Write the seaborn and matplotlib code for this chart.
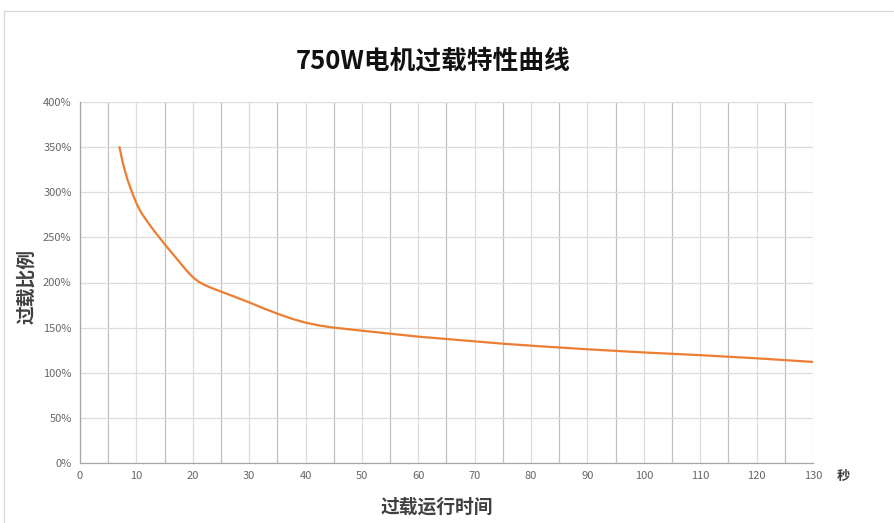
import matplotlib
matplotlib.use("Agg")
import matplotlib.pyplot as plt
import seaborn as sns
import pandas as pd
from matplotlib.ticker import MultipleLocator, FuncFormatter
from matplotlib.lines import Line2D

# ---- data ----
time_s = [7, 7.5, 8, 8.5, 9, 9.5, 10, 10.5, 11, 12, 13, 14, 15, 16, 17, 18,
          19, 20, 21, 22, 23, 24, 25, 27.5, 30, 32.5, 35, 37.5, 40, 42.5, 45,
          50, 55, 60, 65, 70, 75, 80, 90, 100, 110, 120, 130]
overload_pct = [350, 335, 323, 312.5, 304, 295.5, 288, 281.5, 276, 267, 258.5,
                250.5, 242.5, 235, 227.5, 220, 212.5, 206, 201, 197.5, 194.8,
                192.3, 190, 184, 178, 171.5, 165.5, 160, 155.5, 152.3, 150,
                146.6, 143.3, 140, 137.4, 134.8, 132.2, 130, 126, 122.5,
                119.5, 116, 112]
title_text = "750W电机过载特性曲线"
xlabel_text = "过载运行时间"
ylabel_text = "过载比例"
unit_text = "秒"

df = pd.DataFrame({"t": time_s, "p": overload_pct})

sns.set_theme(style="white")
plt.rcParams["font.family"] = ["Noto Sans CJK SC", "DejaVu Sans"]

fig = plt.figure(figsize=(8.95, 5.23), dpi=100)
ax = fig.add_axes([80 / 895, 1 - 463 / 523, 733 / 895, 361 / 523])

sns.lineplot(data=df, x="t", y="p", ax=ax, color="#ED7D31", linewidth=1.6)

ax.set_xlim(0, 130)
ax.set_ylim(0, 400)
ax.xaxis.set_major_locator(MultipleLocator(10))
ax.xaxis.set_minor_locator(MultipleLocator(5))
ax.yaxis.set_major_locator(MultipleLocator(50))
ax.yaxis.set_major_formatter(FuncFormatter(lambda v, _: f"{int(v)}%"))

ax.grid(True, which="major", axis="both", color="#dcdcdc", linewidth=0.9)
ax.grid(True, which="minor", axis="x", color="#c0c0c0", linewidth=0.9)
ax.set_axisbelow(True)

for side in ["top", "right"]:
    ax.spines[side].set_visible(False)
ax.spines["left"].set_color("#a6a6a6")
ax.spines["bottom"].set_color("#a6a6a6")
ax.spines["left"].set_linewidth(0.9)
ax.spines["bottom"].set_linewidth(0.9)

ax.tick_params(axis="x", which="major", direction="inout", length=6, width=0.8,
               color="#a6a6a6", labelsize=8, labelcolor="#666666", pad=3)
ax.tick_params(axis="x", which="minor", length=0)
ax.tick_params(axis="y", which="major", direction="out", length=4, width=0.8,
               color="#a6a6a6", labelsize=8, labelcolor="#666666", pad=2)
ax.set_xlabel("")
ax.set_ylabel("")

fig.text(433 / 895, 1 - 61 / 523, title_text, ha="center", va="center",
         fontsize=18.5, fontweight="bold", color="#111111")
fig.text(437 / 895, 1 - 507 / 523, xlabel_text, ha="center", va="center",
         fontsize=13.5, fontweight="bold", color="#404040")
fig.text(27 / 895, 1 - 287 / 523, ylabel_text, ha="center", va="center",
         rotation=90, fontsize=13.5, fontweight="bold", color="#404040")
fig.text(843 / 895, 1 - 476 / 523, unit_text, ha="center", va="center",
         fontsize=9.5, fontweight="bold", color="#404040")

# outer chart frame
fig.add_artist(Line2D([4 / 895, 1], [1 - 11 / 523, 1 - 11 / 523],
                      transform=fig.transFigure, color="#d9d9d9", linewidth=1))
fig.add_artist(Line2D([4 / 895, 4 / 895], [0, 1 - 11 / 523],
                      transform=fig.transFigure, color="#d9d9d9", linewidth=1))

fig.savefig("out.png", dpi=100, facecolor="white")
